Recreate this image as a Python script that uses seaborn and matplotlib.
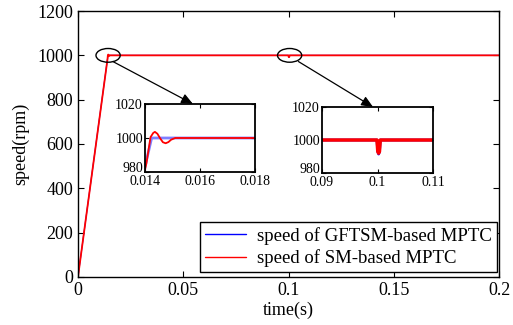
import matplotlib
matplotlib.use("Agg")
import matplotlib.pyplot as plt
from matplotlib.patches import Ellipse
import seaborn as sns
import pandas as pd

# Speed response of the two controllers (time in s, speed in rpm)
t_gftsm = [0, 0.01424, 0.0999, 0.10005, 0.1002, 0.10035, 0.1005, 0.2]
speed_gftsm = [0, 1000.0, 1000.0, 993, 991.5, 993, 1000.0, 1000.0]

t_sm = [0, 0.01405, 0.0142, 0.0143, 0.01436, 0.01445, 0.01455, 0.01465,
        0.01475, 0.01485, 0.01495, 0.0151, 0.0999, 0.10005, 0.1002,
        0.10035, 0.1005, 0.2]
speed_sm = [0, 985, 1000.5, 1003, 1003.6, 1002.5, 999.8, 997.5,
            996.9, 997.6, 999.0, 1000.0, 1000.0, 993, 992, 993, 1000, 1000]

labels = ["speed of GFTSM-based MPTC", "speed of SM-based MPTC"]
main_xticks = [0, 0.05, 0.1, 0.15, 0.2]
main_xticklabels = ["0", "0.05", "0.1", "0.15", "0.2"]
main_yticks = [0, 200, 400, 600, 800, 1000, 1200]
zoom1_xticks = [0.014, 0.016, 0.018]
zoom1_xticklabels = ["0.014", "0.016", "0.018"]
zoom2_xticks = [0.09, 0.1, 0.11]
zoom2_xticklabels = ["0.09", "0.1", "0.11"]
zoom_yticks = [980, 1000, 1020]

sns.set_style("ticks")
plt.rcParams["font.family"] = ["Liberation Serif", "DejaVu Serif"]
plt.rcParams["xtick.direction"] = "in"
plt.rcParams["ytick.direction"] = "in"
plt.rcParams["axes.edgecolor"] = "black"
plt.rcParams["axes.linewidth"] = 1.0
plt.rcParams["text.color"] = "black"
plt.rcParams["axes.labelcolor"] = "black"
plt.rcParams["xtick.color"] = "black"
plt.rcParams["ytick.color"] = "black"

df_g = pd.DataFrame({"t": t_gftsm, "speed": speed_gftsm})
df_s = pd.DataFrame({"t": t_sm, "speed": speed_sm})

fig = plt.figure(figsize=(5.13, 3.25), dpi=100)
ax = fig.add_axes([0.152, 0.148, 0.821, 0.818])

sns.lineplot(data=df_g, x="t", y="speed", ax=ax, color="blue", lw=0.8,
             label=labels[0], estimator=None)
sns.lineplot(data=df_s, x="t", y="speed", ax=ax, color="red", lw=1.3,
             label=labels[1], estimator=None)

ax.set_xlim(0, 0.2)
ax.set_ylim(0, 1200)
ax.set_xticks(main_xticks)
ax.set_xticklabels(main_xticklabels)
ax.set_yticks(main_yticks)
ax.tick_params(labelsize=13, length=4, width=0.8, top=True, right=True)
ax.set_xlabel("time(s)", fontsize=13, labelpad=2)
ax.set_ylabel("speed(rpm)", fontsize=13, labelpad=6)

leg = ax.legend(loc="lower right", bbox_to_anchor=(0.994, 0.018),
                fontsize=13.5, frameon=True, fancybox=False, edgecolor="black",
                framealpha=1, handlelength=2.2, handletextpad=0.6,
                borderpad=0.25, labelspacing=0.25, borderaxespad=0)
leg.get_frame().set_linewidth(1.0)
for line in leg.get_lines():
    line.set_linewidth(1.0)

# Circles around the zoomed regions
for cx in (0.0143, 0.1005):
    ax.add_patch(Ellipse((cx, 1000), 0.0115, 62, fill=False,
                         edgecolor="black", lw=1.0, zorder=5))

# Zoomed view of the start-up
ax1 = fig.add_axes([0.2827, 0.4708, 0.2144, 0.2092])
sns.lineplot(data=df_g, x="t", y="speed", ax=ax1, color="blue", lw=2.0,
             alpha=0.5, estimator=None)
sns.lineplot(data=df_s, x="t", y="speed", ax=ax1, color="red", lw=1.3,
             estimator=None)
ax1.set_xlim(0.014, 0.018)
ax1.set_ylim(980, 1020)
ax1.set_xticks(zoom1_xticks)
ax1.set_xticklabels(zoom1_xticklabels)
ax1.set_yticks(zoom_yticks)

# Zoomed view of the disturbance
ax2 = fig.add_axes([0.6277, 0.4677, 0.2164, 0.203])
sns.lineplot(data=df_g, x="t", y="speed", ax=ax2, color="blue", lw=2.0,
             estimator=None)
sns.lineplot(data=df_s, x="t", y="speed", ax=ax2, color="red", lw=2.5,
             estimator=None)
ax2.set_xlim(0.09, 0.11)
ax2.set_ylim(980, 1020)
ax2.set_xticks(zoom2_xticks)
ax2.set_xticklabels(zoom2_xticklabels)
ax2.set_yticks(zoom_yticks)

for a in (ax1, ax2):
    a.set_xlabel("")
    a.set_ylabel("")
    a.tick_params(labelsize=10, length=3, width=0.8, top=True, right=True,
                  pad=1.5)
    a.tick_params(axis="x", pad=2.5)
    for s in a.spines.values():
        s.set_linewidth(1.3)
    if a.get_legend() is not None:
        a.get_legend().remove()
    # keep the lowest y label clear of the x labels underneath
    a.get_yticklabels()[0].set_verticalalignment("baseline")

# Arrows from the circles to the zoomed views
for tail_x, target, tip_x in ((0.0166, ax1, 0.436), (0.1047, ax2, 0.46)):
    ax.annotate("", xy=(tip_x, 1.0), xycoords=target.transAxes,
                xytext=(tail_x, 972), textcoords="data",
                arrowprops=dict(arrowstyle="-|>,head_length=0.7,head_width=0.3",
                                color="black", lw=0.9, shrinkA=0, shrinkB=0),
                zorder=6)

fig.savefig("out.png", dpi=100)
